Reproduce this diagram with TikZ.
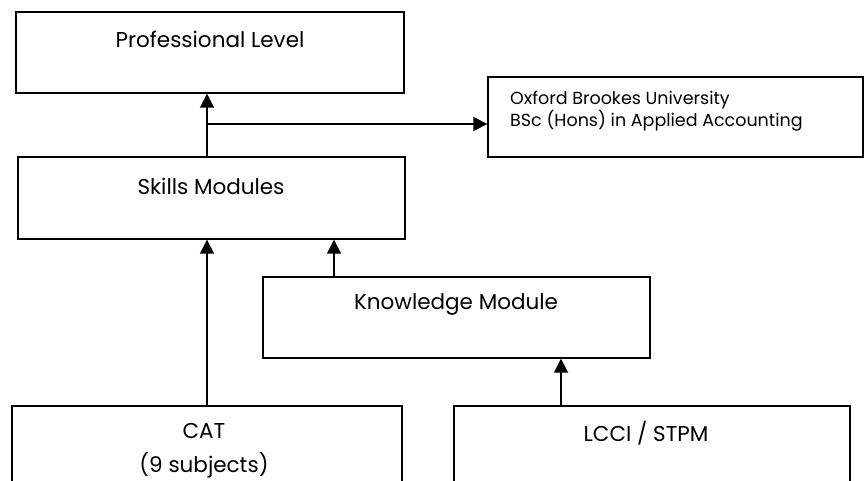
\documentclass[tikz,border=0pt]{standalone}
\usepackage{fontspec}
\setmainfont{Poppins}
\usetikzlibrary{arrows.meta}
\begin{document}
\begin{tikzpicture}[x=1pt,y=-1pt,
  box/.style={draw, line width=1.4pt, inner sep=0pt},
  lbl/.style={font=\fontsize{21.5}{26}\selectfont, inner sep=0pt},
  small/.style={font=\fontsize{17.5}{22}\selectfont, inner sep=0pt, align=left},
  arr/.style={line width=1.8pt, -{Triangle[length=14pt,width=14pt]}}]
\useasboundingbox (0,0) rectangle (864,481);
\clip (0,0) rectangle (864,481);
% boxes
\node[box, minimum width=388pt, minimum height=81pt] (pl) at (210,52.5) {};
\node[box, minimum width=387pt, minimum height=82pt] (sk) at (211.5,198) {};
\node[box, minimum width=375pt, minimum height=80pt] (ox) at (675.5,117) {};
\node[box, minimum width=387pt, minimum height=81pt] (km) at (456.5,317.5) {};
\node[box, minimum width=390pt, minimum height=81pt] (cat) at (207,446.5) {};
\node[box, minimum width=396pt, minimum height=81pt] (lc) at (652,446.5) {};
% texts
\node[lbl] (plt) at (210,39) {Professional Level};
\node[lbl] (skt) at (211,186) {Skills Modules};
\node[small, anchor=west] (oxt) at (510,111) {Oxford Brookes University\\BSc (Hons) in Applied Accounting};
\node[lbl] (kmt) at (456,304) {Knowledge Module};
\node[lbl] (catt) at (204,431) {CAT};
\node[lbl] (cats) at (204,465) {(9 subjects)};
\node[lbl] (lct) at (646,433) {LCCI / STPM};
% connectors
\coordinate (j) at (207,124);
\coordinate (k) at (334,0);
\coordinate (l) at (561,0);
\draw[arr] (j |- sk.north) -- (j |- pl.south);
\draw[arr] (j) -- (j -| ox.west);
\draw[arr] (cat.north) -- (cat.north |- sk.south);
\draw[arr] (k |- km.north) -- (k |- sk.south);
\draw[arr] (l |- lc.north) -- (l |- km.south);
\end{tikzpicture}
\end{document}
